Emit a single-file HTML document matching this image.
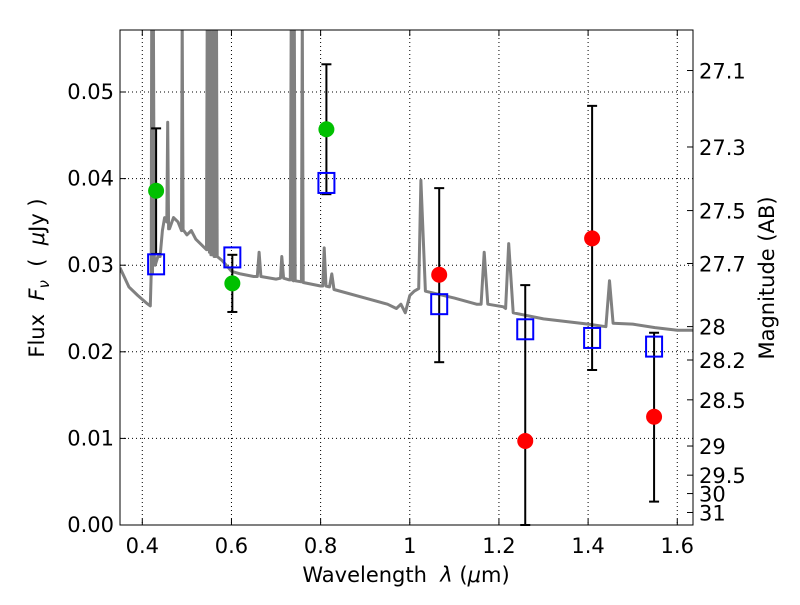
<!DOCTYPE html>
<html><head><meta charset="utf-8"><style>
body{margin:0;background:#fff;}
svg text{font-family:"DejaVu Sans","Liberation Sans",sans-serif;fill:#000;}
</style></head><body>
<svg id="chart" width="800" height="600" xmlns="http://www.w3.org/2000/svg">
<rect width="800" height="600" fill="#fff"/>
<g id="grid"></g>
<g id="spec"></g>
<g id="marks"></g>
<rect x="120" y="30" width="573" height="495" fill="none" stroke="#000" stroke-width="1"/>
<g id="axes"></g>
<text x="406" y="582" font-size="21" text-anchor="middle" xml:space="preserve">Wavelength  <tspan font-style="italic">λ</tspan> (<tspan font-style="italic">μ</tspan>m)</text>
<text transform="translate(44,278) rotate(-90)" font-size="21" text-anchor="middle" xml:space="preserve">Flux  <tspan font-style="italic">F</tspan><tspan font-size="15" font-style="italic" dy="5">ν</tspan><tspan dy="-5">  (  </tspan><tspan font-style="italic">μ</tspan>Jy )</text>
<text transform="translate(774,278) rotate(-90)" font-size="21" text-anchor="middle">Magnitude (AB)</text>
</svg>
<script>
const specLam=[0.35,0.37,0.39,0.41,0.418,0.42,0.421,0.423,0.425,0.427,0.429,0.435,0.44,0.445,0.45,0.455,0.457,0.459,0.461,0.47,0.48,0.488,0.4895,0.4915,0.493,0.5,0.51,0.52,0.54,0.544,0.5455,0.5475,0.549,0.5505,0.5525,0.554,0.5575,0.5595,0.561,0.5645,0.5665,0.568,0.58,0.6,0.62,0.65,0.658,0.662,0.666,0.7,0.71,0.713,0.717,0.73,0.732,0.734,0.736,0.739,0.741,0.743,0.755,0.757,0.759,0.761,0.8,0.805,0.808,0.812,0.82,0.825,0.83,0.9,0.95,0.97,0.98,0.99,1.0,1.01,1.02,1.025,1.035,1.06,1.1,1.15,1.16,1.167,1.175,1.21,1.215,1.222,1.232,1.3,1.4,1.44,1.448,1.456,1.5,1.55,1.6,1.635];
const specFlux=[0.0297,0.0275,0.0265,0.0256,0.0253,0.029,0.06,0.029,0.06,0.031,0.03,0.031,0.031,0.034,0.0355,0.035,0.0465,0.0342,0.0342,0.0355,0.035,0.034,0.06,0.034,0.034,0.0335,0.034,0.033,0.032,0.0318,0.06,0.0318,0.06,0.0315,0.06,0.0312,0.0312,0.06,0.031,0.031,0.06,0.031,0.0305,0.0293,0.029,0.0287,0.0287,0.0315,0.0287,0.0284,0.0285,0.031,0.0285,0.0283,0.0283,0.06,0.0283,0.0282,0.06,0.0282,0.0281,0.0281,0.06,0.028,0.0276,0.0276,0.032,0.0276,0.0275,0.029,0.0272,0.0262,0.0255,0.025,0.0255,0.0245,0.0265,0.027,0.0273,0.0398,0.027,0.0267,0.0262,0.0255,0.0255,0.0315,0.0255,0.0252,0.025,0.0325,0.0245,0.0238,0.0232,0.0229,0.0282,0.0233,0.0232,0.0228,0.0225,0.0225];
const obsLam=[0.431,0.602,0.813,1.066,1.259,1.409,1.548];
const obsFlux=[0.0386,0.0279,0.0457,0.0289,0.0097,0.0331,0.0125];
const obsHi=[0.0458,0.0312,0.0532,0.0389,0.0277,0.0484,0.0222];
const obsLo=[0.0313,0.0246,0.0382,0.0188,0.0,0.0179,0.0027];
const obsColor=['#00c000','#00c000','#00c000','red','red','red','red'];
const modelFlux=[0.0301,0.0309,0.0395,0.0255,0.0226,0.0216,0.0206];
const xTicks=[0.4,0.6,0.8,1.0,1.2,1.4,1.6];
const xTickLabels=['0.4','0.6','0.8','1','1.2','1.4','1.6'];
const yTicks=[0,0.01,0.02,0.03,0.04,0.05];
const yTickLabels=['0.00','0.01','0.02','0.03','0.04','0.05'];
const magTicks=[27.1,27.3,27.5,27.7,28,28.2,28.5,29,29.5,30,31];
const magTickLabels=['27.1','27.3','27.5','27.7','28','28.2','28.5','29','29.5','30','31'];

const NS='http://www.w3.org/2000/svg';
const X0=120,X1=693,Y0=525,Y1=30,XMIN=0.35,XMAX=1.6353,YMIN=0,YMAX=0.05716;
function sx(v){return X0+(v-XMIN)/(XMAX-XMIN)*(X1-X0);}
function sy(v){return Y0-(v-YMIN)/(YMAX-YMIN)*(Y0-Y1);}
function magToFlux(m){return Math.pow(10,(23.9-m)/2.5);}
function mk(tag,attrs,parent){const e=document.createElementNS(NS,tag);for(const k in attrs)e.setAttribute(k,attrs[k]);parent.appendChild(e);return e;}
const grid=document.getElementById('grid'),axes=document.getElementById('axes'),spec=document.getElementById('spec'),marks=document.getElementById('marks');

xTicks.forEach((t,i)=>{const x=sx(t);
 const g=mk('line',{x1:x,x2:x,y1:Y1,y2:Y0,stroke:'#000','stroke-dasharray':'1,3','stroke-width':1},grid);
 
 mk('line',{x1:x,x2:x,y1:Y0,y2:Y0-6,stroke:'#000'},axes);
 mk('line',{x1:x,x2:x,y1:Y1,y2:Y1+6,stroke:'#000'},axes);
 const tx=mk('text',{x:x,y:553,'font-size':21,'text-anchor':'middle'},axes);tx.textContent=xTickLabels[i];
 
});
yTicks.forEach((t,i)=>{const y=sy(t);
 const g=mk('line',{x1:X0,x2:X1,y1:y,y2:y,stroke:'#000','stroke-dasharray':'1,3','stroke-width':1},grid);
 
 mk('line',{x1:X0,x2:X0+6,y1:y,y2:y,stroke:'#000'},axes);
 const tx=mk('text',{x:114,y:y+7,'font-size':21,'text-anchor':'end'},axes);tx.textContent=yTickLabels[i];
 
});
magTicks.forEach((m,i)=>{const y=sy(magToFlux(m));
 mk('line',{x1:X1,x2:X1-6,y1:y,y2:y,stroke:'#000'},axes);
 const tx=mk('text',{x:699,y:y+8,'font-size':21},axes);tx.textContent=magTickLabels[i];
 
});
let d='';specLam.forEach((l,i)=>{const f=Math.min(specFlux[i],0.0585);d+=(i?'L':'M')+sx(l).toFixed(1)+','+sy(f).toFixed(1);});
const cp=mk('clipPath',{id:'clip'},spec);mk('rect',{x:X0,y:Y1,width:X1-X0,height:Y0-Y1},cp);
const p=mk('path',{d:d,fill:'none',stroke:'#808080','stroke-width':3,'stroke-linejoin':'round','clip-path':'url(#clip)'},spec);

obsLam.forEach((l,i)=>{const x=sx(l);
 const e=mk('line',{x1:x,x2:x,y1:sy(obsHi[i]),y2:sy(obsLo[i]),stroke:'#000','stroke-width':2},marks);
 
 [obsHi[i],obsLo[i]].forEach(v=>mk('line',{x1:x-5,x2:x+5,y1:sy(v),y2:sy(v),stroke:'#000','stroke-width':2},marks));
});
obsLam.forEach((l,i)=>{
 const c=mk('circle',{cx:sx(l),cy:sy(obsFlux[i]),r:8,fill:obsColor[i]},marks);
 
});
obsLam.forEach((l,i)=>{
 const r=mk('rect',{x:sx(l)-8,y:sy(modelFlux[i])-10,width:16,height:20,fill:'none',stroke:'#0000ff','stroke-width':2},marks);
 
});
</script>
</body></html>
